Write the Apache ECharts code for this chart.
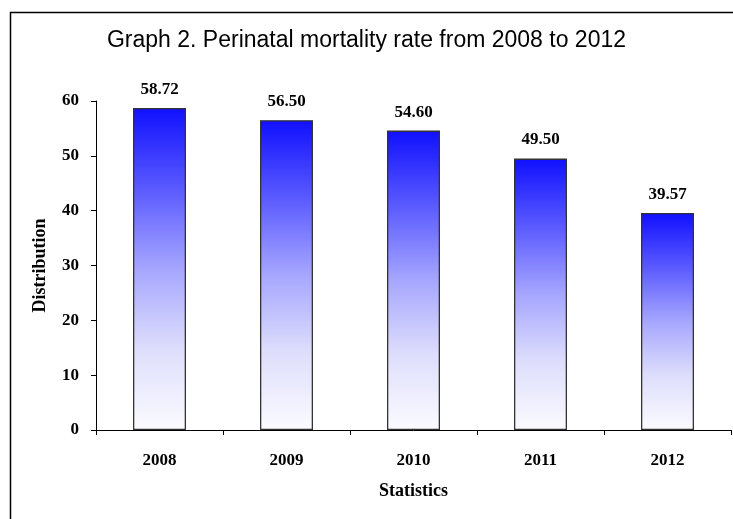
<!DOCTYPE html>
<html><head><meta charset="utf-8">
<script src="https://cdn.jsdelivr.net/npm/echarts@6/dist/echarts.min.js"></script>
<style>html,body{margin:0;padding:0;background:#fff}#c{width:733px;height:519px}</style>
</head><body><div id="c"></div>
<script>
const categories = ['2008','2009','2010','2011','2012'];
const values = [58.72, 56.50, 54.60, 49.50, 39.57];
const yTicks = [0,10,20,30,40,50,60];

const chart = echarts.init(document.getElementById('c'), null, {renderer:'canvas'});
const serif = '"Liberation Serif", "Times New Roman", serif';
chart.setOption({
  animation:false,
  backgroundColor:'#fff',
  title:{text:'Graph 2. Perinatal mortality rate from 2008 to 2012', left:'center', top:24,
    textStyle:{fontFamily:'"Liberation Sans", Arial, sans-serif', fontSize:23, fontWeight:'normal', color:'#000'}},
  graphic:[{type:'rect', shape:{x:10.5,y:12.5,width:740,height:520}, style:{fill:null, stroke:'#000', lineWidth:1.5}, silent:true}],
  grid:{left:96, right:2, top:101, bottom:89, containLabel:false},
  xAxis:{type:'category', data:categories,
    name:'Statistics', nameLocation:'middle', nameGap:52,
    nameTextStyle:{fontFamily:serif, fontSize:18, fontWeight:'bold', color:'#000'},
    axisLine:{lineStyle:{color:'#000', width:1}},
    axisTick:{show:true, inside:false, length:5, alignWithLabel:false, lineStyle:{color:'#000'}},
    axisLabel:{fontFamily:serif, fontSize:17, fontWeight:'bold', color:'#000', margin:22}
  },
  yAxis:{type:'value', min:yTicks[0], max:yTicks[yTicks.length-1], interval:10,
    name:'Distribution', nameLocation:'middle', nameGap:47, nameRotate:90,
    nameTextStyle:{fontFamily:serif, fontSize:18, fontWeight:'bold', color:'#000'},
    splitLine:{show:false},
    axisLine:{show:true, lineStyle:{color:'#000', width:1}},
    axisTick:{show:true, length:5, lineStyle:{color:'#000'}},
    axisLabel:{fontFamily:serif, fontSize:17, fontWeight:'bold', color:'#000', margin:17}
  },
  series:[{type:'bar', data:values, barWidth:53,
    itemStyle:{
      color:new echarts.graphic.LinearGradient(0,0,0,1,[
        {offset:0, color:'#1010ff'},
        {offset:0.25, color:'#5a5aff'},
        {offset:0.5, color:'#a6a6ff'},
        {offset:0.75, color:'#dedefc'},
        {offset:1, color:'#fbfbff'}]),
      borderColor:'#333', borderWidth:1.3},
    label:{show:true, position:'top', distance:10, fontFamily:serif, fontSize:17, fontWeight:'bold', color:'#000',
      formatter:p=>p.value.toFixed(2)}
  }]
});
</script></body></html>
